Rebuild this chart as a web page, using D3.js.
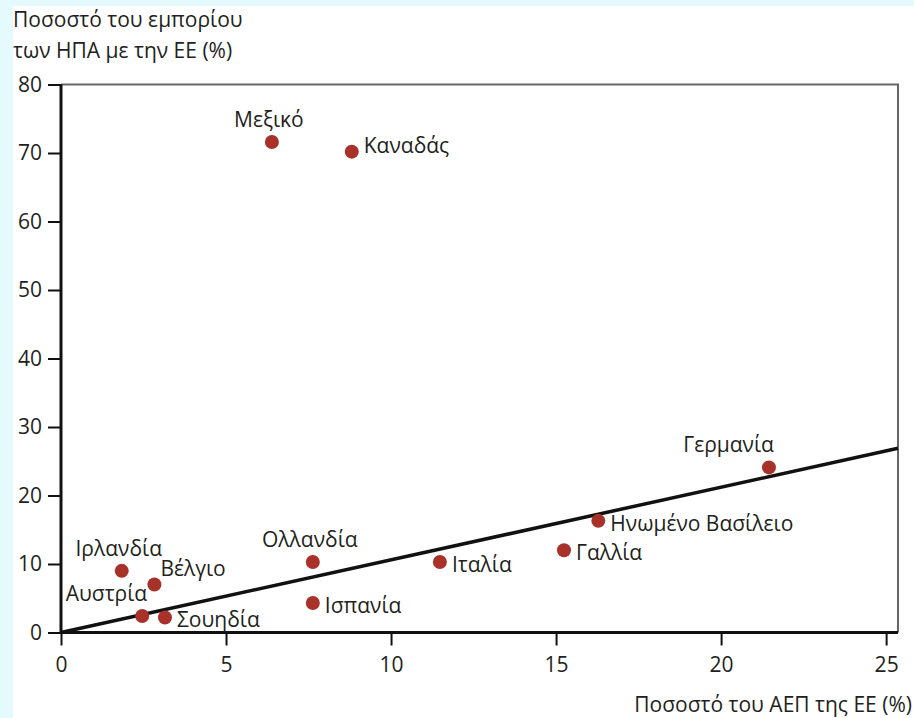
<!DOCTYPE html>
<html>
<head>
<meta charset="utf-8">
<script src="https://cdn.jsdelivr.net/npm/d3@7"></script>
<style>
  body { margin: 0; background: #e4fafd; }
  svg { display: block; }
  text { font-family: "Open Sans", "Noto Sans", sans-serif; fill: #231f20; }
</style>
</head>
<body>
<svg id="chart" width="914" height="718"></svg>
<script>
// countries, share of EU GDP (x) and share of US trade with EU (y)
var countries = ['Μεξικό', 'Καναδάς', 'Γερμανία', 'Ηνωμένο Βασίλειο', 'Γαλλία', 'Ιταλία',
                 'Ολλανδία', 'Ισπανία', 'Ιρλανδία', 'Βέλγιο', 'Αυστρία', 'Σουηδία'];
var gdpShare   = [6.39, 8.81, 21.45, 16.28, 15.24, 11.48, 7.63, 7.63, 1.84, 2.83, 2.46, 3.15];
var tradeShare = [71.6, 70.2, 24.1, 16.3, 12.0, 10.3, 10.3, 4.3, 9.0, 7.0, 2.4, 2.2];
// where each label sits round its dot
var labelPos   = ['top', 'rightup', 'topleft', 'right', 'right', 'right',
                  'top', 'right', 'top', 'topright', 'topleft', 'right'];

var xTicks = [0, 5, 10, 15, 20, 25];
var yTicks = [0, 10, 20, 30, 40, 50, 60, 70, 80];
var trendX = [0, 25.36];
var trendY = [0, 26.9];

var yTitle = ['Ποσοστό του εμπορίου', 'των ΗΠΑ με την ΕΕ (%)'];
var xTitle = 'Ποσοστό του ΑΕΠ της ΕΕ (%)';

var svg = d3.select('#chart');
var pLeft = 61, pRight = 898, pTop = 84.5, pBottom = 632.5;
var fs = '21px';

// white panel over the cyan page
svg.append('rect').attr('x', 13).attr('y', 6).attr('width', 901).attr('height', 712).attr('fill', '#fff');

var x = d3.scaleLinear().domain([0, 25.36]).range([pLeft, pRight]);
var y = d3.scaleLinear().domain([0, 80]).range([pBottom, pTop]);

// top and right frame (grey, thin)
svg.append('path')
    .attr('d', 'M' + pLeft + ',' + pTop + 'H' + pRight + 'V' + pBottom)
    .attr('fill', 'none').attr('stroke', '#666').attr('stroke-width', 2);

// axes
var xAxis = svg.append('g')
    .attr('transform', 'translate(0,' + pBottom + ')')
    .call(d3.axisBottom(x).tickValues(xTicks).tickSize(13).tickPadding(12));
var yAxis = svg.append('g')
    .attr('transform', 'translate(' + pLeft + ',0)')
    .call(d3.axisLeft(y).tickValues(yTicks).tickSize(13).tickPadding(6));

[xAxis, yAxis].forEach(function(a){
  a.select('.domain').attr('stroke', '#111').attr('stroke-width', 3);
  a.selectAll('.tick line').attr('stroke', '#111').attr('stroke-width', 2);
  a.selectAll('.tick text').style('font-size', fs).attr('fill', '#231f20');
});
xAxis.select('.domain').attr('d', 'M' + pLeft + ',0H' + pRight);
yAxis.select('.domain').attr('d', 'M0,' + pTop + 'V' + pBottom);

// trend line
svg.append('line')
    .attr('x1', x(trendX[0])).attr('y1', y(trendY[0]))
    .attr('x2', x(trendX[1])).attr('y2', y(trendY[1]))
    .attr('stroke', '#111').attr('stroke-width', 3.5);

// dots
var pts = countries.map(function(c, i){ return {name: c, gx: gdpShare[i], ty: tradeShare[i], pos: labelPos[i]}; });

svg.selectAll('circle.dot')
    .data(pts)
    .enter().append('circle')
    .attr('class', 'dot')
    .attr('cx', function(d){ return x(d.gx); })
    .attr('cy', function(d){ return y(d.ty); })
    .attr('r', 7)
    .attr('fill', '#a8312a');

// labels
svg.selectAll('text.lbl')
    .data(pts)
    .enter().append('text')
    .attr('class', 'lbl')
    .style('font-size', fs)
    .attr('text-anchor', function(d){
      if (d.pos == 'top') return 'middle';
      if (d.pos == 'topleft') return 'end';
      return 'start';
    })
    .attr('x', function(d){
      var cx = x(d.gx);
      if (d.pos == 'right' || d.pos == 'rightup') return cx + 12;
      if (d.pos == 'topright') return cx + 6;
      if (d.pos == 'topleft') return cx + 5;
      return cx - 3;
    })
    .attr('y', function(d){
      var cy = y(d.ty);
      if (d.pos == 'right') return cy + 10;
      if (d.pos == 'rightup') return cy + 1;
      if (d.pos == 'topright') return cy - 9;
      return cy - 15;
    })
    .text(function(d){ return d.name; });

// axis titles
svg.append('text')
    .attr('x', 13).attr('y', 27)
    .style('font-size', fs)
    .selectAll('tspan').data(yTitle).enter().append('tspan')
    .attr('x', 13).attr('dy', function(d, i){ return i ? 31 : 0; })
    .text(function(d){ return d; });

svg.append('text')
    .attr('x', 912).attr('y', 712)
    .attr('text-anchor', 'end')
    .style('font-size', fs)
    .text(xTitle);
</script>
</body>
</html>
